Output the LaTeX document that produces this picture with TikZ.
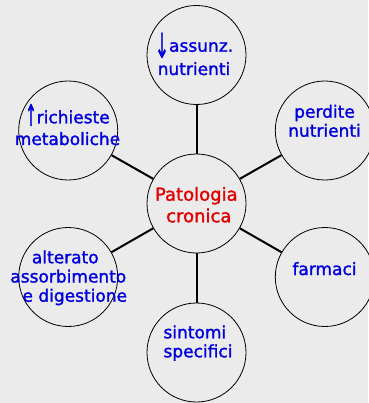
\documentclass[tikz,border=0pt]{standalone}
\usepackage{fontspec}
\setmainfont[FakeBold=1.5]{DejaVu Sans}
\definecolor{bg}{RGB}{235,235,235}
\definecolor{txtblue}{RGB}{0,0,220}
\definecolor{txtred}{RGB}{225,0,0}
\newcommand{\dnarrow}{\smash{\raisebox{-6pt}{\scalebox{1}[2.0]{↓}}}}
\newcommand{\uparr}{\smash{\raisebox{-2.5pt}{\scalebox{0.8}[1.75]{↑}}}}
\begin{document}
\begin{tikzpicture}[x=1pt,y={(0pt,-1pt)},
  bubble/.style={circle,draw=black,line width=0.8pt,fill=bg,minimum size=99pt,inner sep=0pt},
  lbl/.style={font=\fontsize{17}{19.2}\selectfont,text=txtblue,align=center,inner sep=0pt,anchor=base},
  spoke/.style={line width=2pt,draw=black}]
\fill[bg] (0,0) rectangle (368,403);
\useasboundingbox (0,0) rectangle (368,403);
\node[bubble] (c) at (196.5,203.5) {};
\node[bubble] (t) at (196.5,55) {};
\node[bubble] (ul) at (68.2,130.5) {};
\node[bubble] (ur) at (324.8,130.5) {};
\node[bubble] (ll) at (68.2,277) {};
\node[bubble] (lr) at (324.8,277) {};
\node[bubble] (b) at (196.5,352.5) {};
\foreach \n in {t,ul,ur,ll,lr,b} \draw[spoke] (c) -- (\n);
\node[lbl,text=txtred,font=\fontsize{18}{21.6}\selectfont] (ct) at (196.3,222.3) {Patologia\\\hspace*{5pt}cronica};
\node[lbl] (tt) at (194,75) {\dnarrow assunz.\\[4.1pt]nutrienti};
\node[lbl] (ult) at (67.5,145) {\uparr richieste\\[2.5pt]metaboliche};
\node[lbl] (urt) at (324.5,136.7) {perdite\\[-0.2pt]nutrienti};
\node[lbl] (llt) at (68.3,301.7) {alterato\hspace*{6pt}\\assorbimento\\\hspace*{13pt}e digestione};
\node[lbl] (lrt) at (324.5,275) {farmaci};
\node[lbl,align=left,anchor=base west] (bt) at (163.3,357.3) {sintomi\\[-0.2pt]specifici};
\end{tikzpicture}
\end{document}
